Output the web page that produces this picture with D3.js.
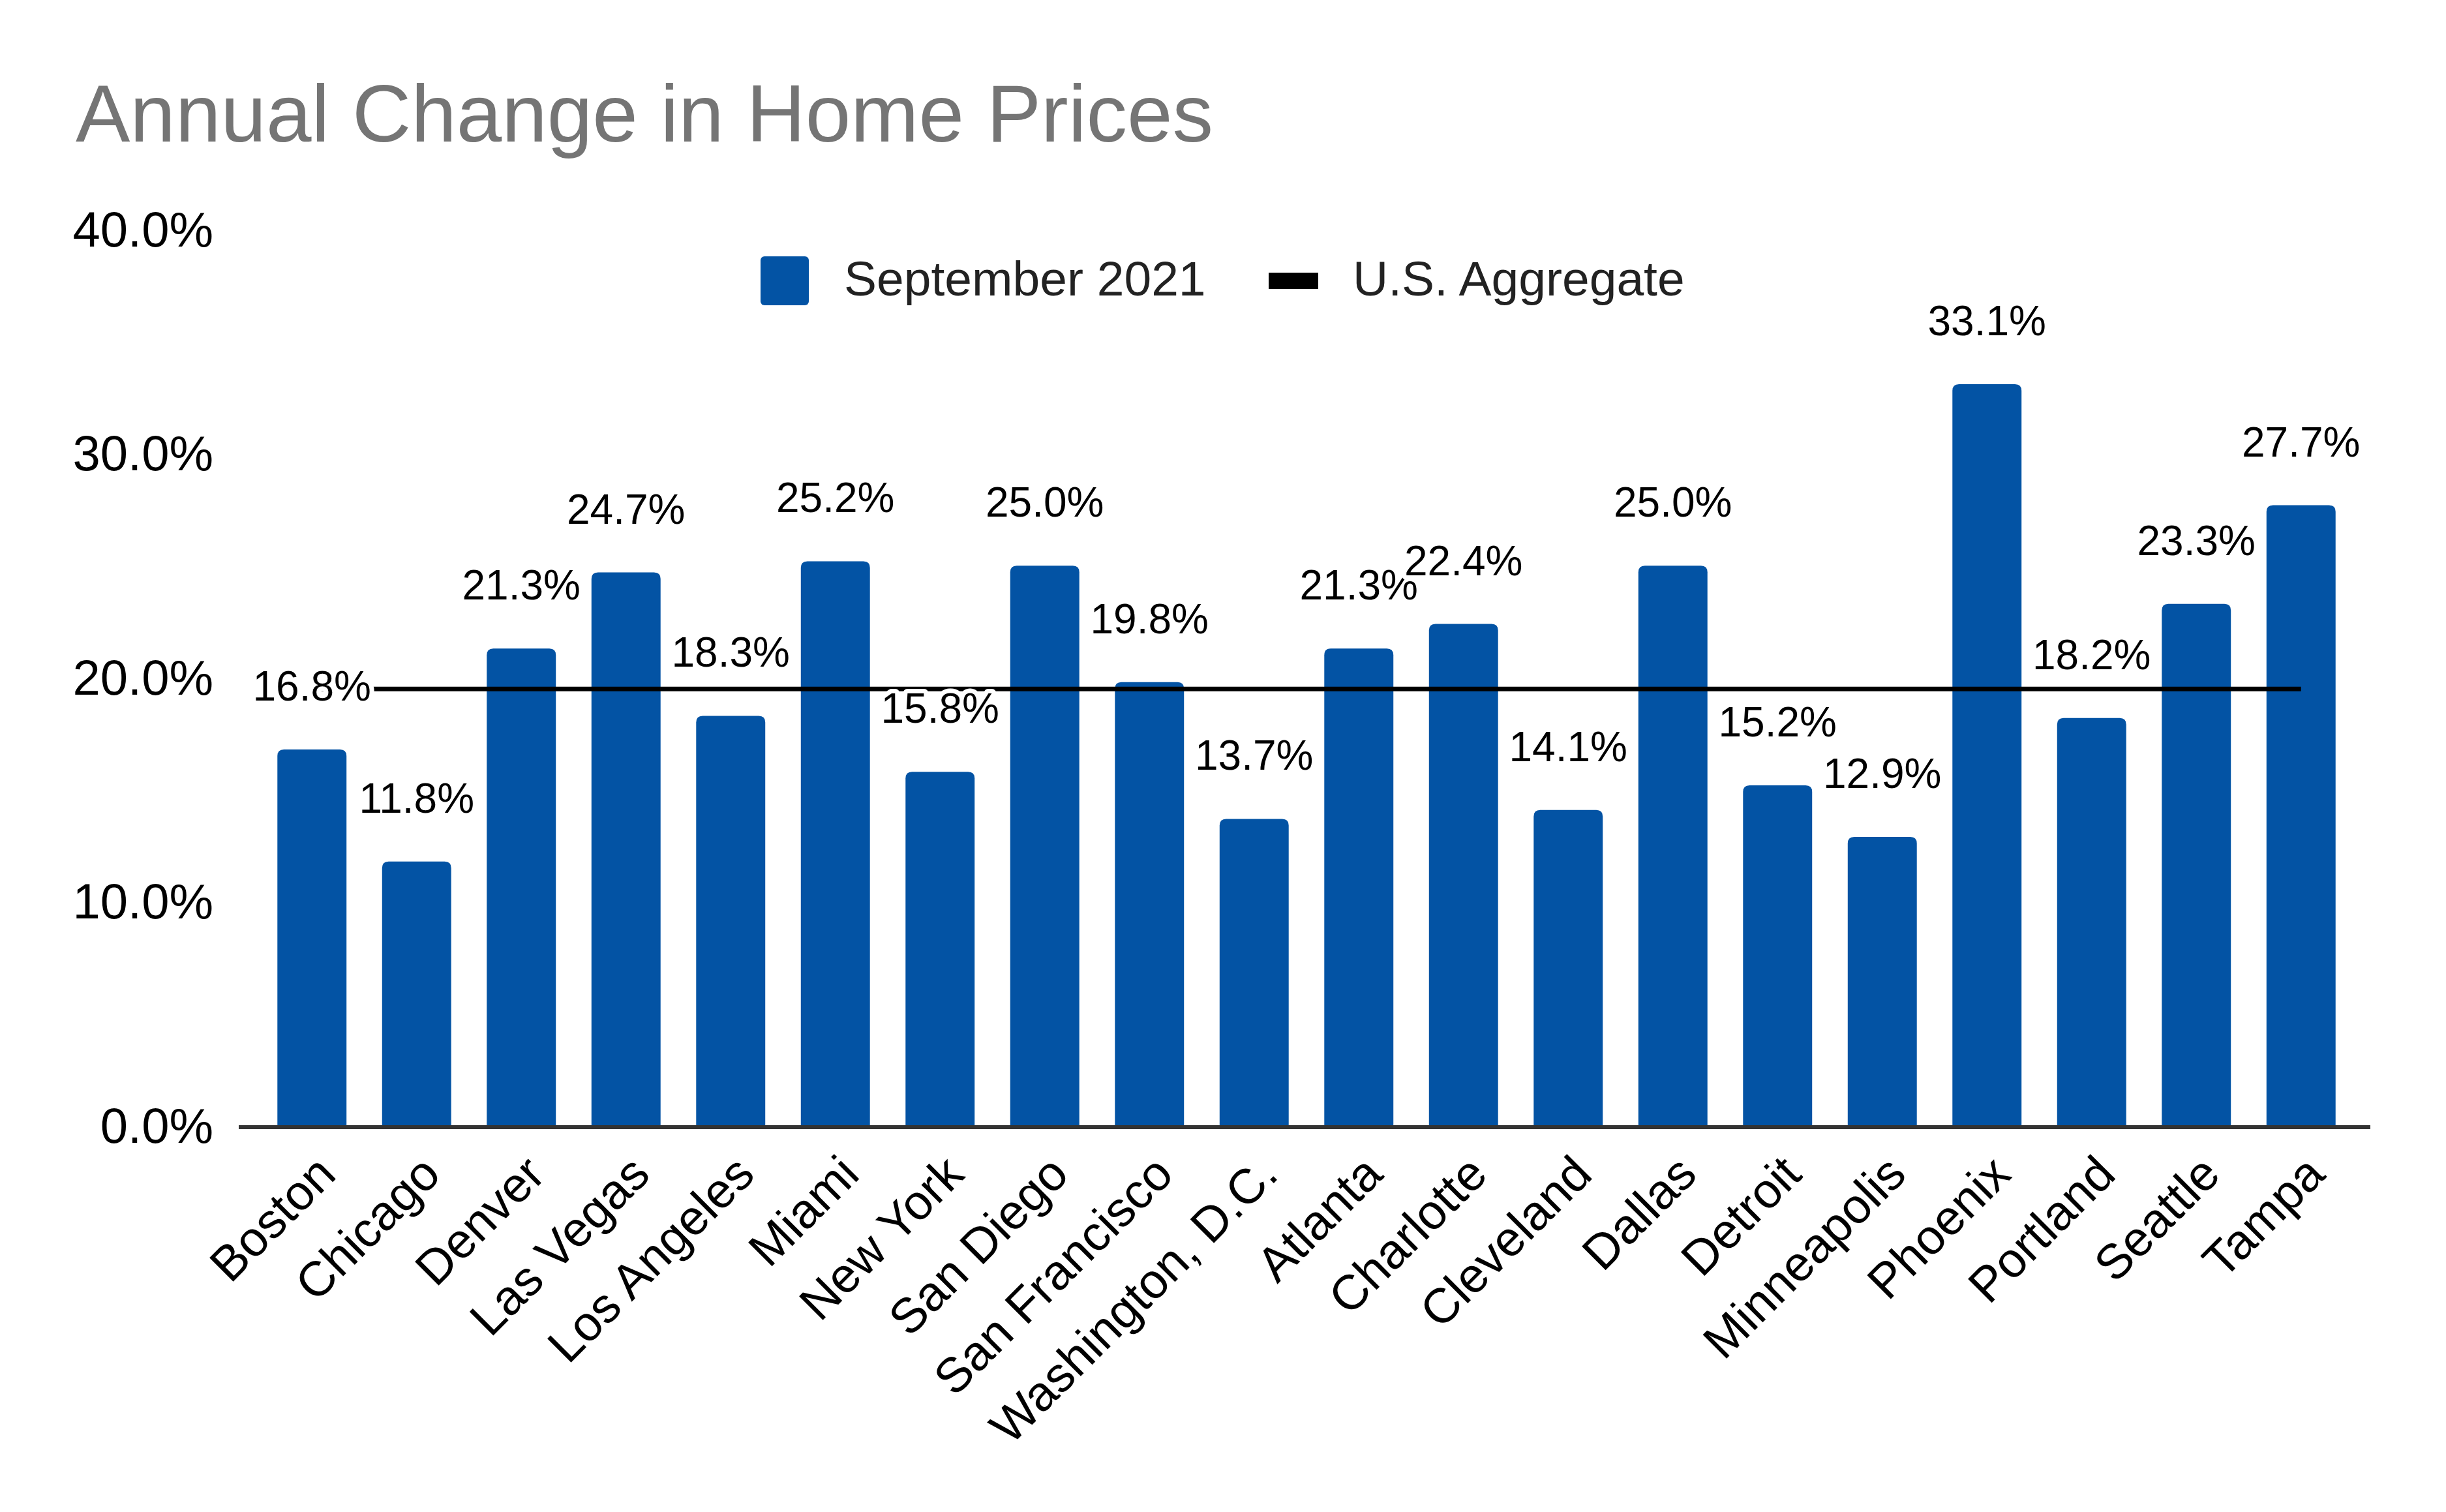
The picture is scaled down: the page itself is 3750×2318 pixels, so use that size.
<!DOCTYPE html>
<html>
<head>
<meta charset="utf-8">
<script src="https://cdn.jsdelivr.net/npm/d3@7"></script>
<style>
    body { margin: 0; background: #fff; }
    text { font-family: "Liberation Sans", Arial, sans-serif; }
</style>
</head>
<body>
<svg id="chart"></svg>
<script>
// cities in the order they appear on the chart
let cities = ["Boston", "Chicago", "Denver", "Las Vegas", "Los Angeles", "Miami", "New York",
    "San Diego", "San Francisco", "Washington, D.C.", "Atlanta", "Charlotte", "Cleveland",
    "Dallas", "Detroit", "Minneapolis", "Phoenix", "Portland", "Seattle", "Tampa"];
// September 2021, % change vs. a year earlier
let sep2021 = [16.8, 11.8, 21.3, 24.7, 18.3, 25.2, 15.8, 25.0, 19.8, 13.7,
    21.3, 22.4, 14.1, 25.0, 15.2, 12.9, 33.1, 18.2, 23.3, 27.7];
// U.S. aggregate line (same value for every city)
let usAggregate = [19.5, 19.5, 19.5, 19.5, 19.5, 19.5, 19.5, 19.5, 19.5, 19.5,
    19.5, 19.5, 19.5, 19.5, 19.5, 19.5, 19.5, 19.5, 19.5, 19.5];
let yTicks = [0, 10, 20, 30, 40];
let seriesNames = ["September 2021", "U.S. Aggregate"];

var svgWidth = 3750, svgHeight = 2318;
var barColor = "#0353a4";

var svg = d3.select("#chart")
    .attr("width", svgWidth)
    .attr("height", svgHeight);

svg.append("rect")
    .attr("width", svgWidth)
    .attr("height", svgHeight)
    .attr("fill", "#fff");

var x = d3.scaleBand()
    .domain(cities)
    .range([398, 3608])
    .paddingInner(0.34)
    .paddingOuter(0.17);

var y = d3.scaleLinear()
    .domain([0, 40])
    .range([1726, 352]);

// title
svg.append("text")
    .attr("x", 116)
    .attr("y", 217)
    .attr("fill", "#757575")
    .style("font-size", "125px")
    .text("Annual Change in Home Prices");

// y axis: labels only, no gridlines
var yAxis = d3.axisLeft(y)
    .tickValues(yTicks)
    .tickSize(0)
    .tickPadding(0)
    .tickFormat(function(d){ return d.toFixed(1) + "%"; });

var yG = svg.append("g")
    .attr("transform", "translate(327,0)")
    .call(yAxis);
yG.select(".domain").remove();
yG.selectAll("text")
    .attr("fill", "#000")
    .attr("dy", "0.33em")
    .style("font-size", "76px")
    .style("font-family", "'Liberation Sans', Arial, sans-serif");

// bars with slightly rounded tops
var r = 10;
svg.selectAll("path.bar")
    .data(sep2021)
    .enter()
    .append("path")
    .attr("class", "bar")
    .attr("fill", barColor)
    .attr("d", function(d, i){
        var x0 = x(cities[i]), w = x.bandwidth();
        var top = y(d), bot = y(0);
        return "M" + x0 + "," + bot +
            "V" + (top + r) +
            "Q" + x0 + "," + top + " " + (x0 + r) + "," + top +
            "H" + (x0 + w - r) +
            "Q" + (x0 + w) + "," + top + " " + (x0 + w) + "," + (top + r) +
            "V" + bot + "Z";
    });

// x axis line
svg.append("line")
    .attr("x1", x.range()[0] - 32)
    .attr("x2", x.range()[1] + 26)
    .attr("y1", y(0) + 2)
    .attr("y2", y(0) + 2)
    .attr("stroke", "#333")
    .attr("stroke-width", 6);

// U.S. aggregate line
var line = d3.line()
    .x(function(d, i){ return x(cities[i]) + x.bandwidth() / 2; })
    .y(function(d){ return y(d); });

svg.append("path")
    .datum(usAggregate)
    .attr("fill", "none")
    .attr("stroke", "#000")
    .attr("stroke-width", 7)
    .attr("d", line);

// data labels with white halo, drawn over the line
svg.selectAll("text.val")
    .data(sep2021)
    .enter()
    .append("text")
    .attr("class", "val")
    .attr("x", function(d, i){ return x(cities[i]) + x.bandwidth() / 2; })
    .attr("y", function(d){ return y(d) - 75; })
    .attr("text-anchor", "middle")
    .attr("fill", "#000")
    .attr("stroke", "#fff")
    .attr("stroke-width", 14)
    .attr("stroke-linejoin", "round")
    .style("paint-order", "stroke")
    .style("font-size", "64px")
    .text(function(d){ return d.toFixed(1) + "%"; });

// x labels, rotated
svg.selectAll("text.city")
    .data(cities)
    .enter()
    .append("text")
    .attr("class", "city")
    .attr("text-anchor", "end")
    .attr("fill", "#000")
    .style("font-size", "75px")
    .attr("transform", function(d){
        var cx = x(d) + x.bandwidth() / 2 + 40;
        return "translate(" + cx + ",1804) rotate(-45)";
    })
    .text(function(d){ return d; });

// legend
var legend = svg.append("g");
legend.append("rect")
    .attr("x", 1166).attr("y", 393)
    .attr("width", 74).attr("height", 75)
    .attr("rx", 6)
    .attr("fill", barColor);
legend.append("text")
    .attr("x", 1294).attr("y", 453)
    .attr("fill", "#222")
    .style("font-size", "75px")
    .text(seriesNames[0]);
legend.append("rect")
    .attr("x", 1945).attr("y", 418)
    .attr("width", 76).attr("height", 25)
    .attr("fill", "#000");
legend.append("text")
    .attr("x", 2074).attr("y", 453)
    .attr("fill", "#222")
    .style("font-size", "75px")
    .text(seriesNames[1]);
</script>
</body>
</html>
